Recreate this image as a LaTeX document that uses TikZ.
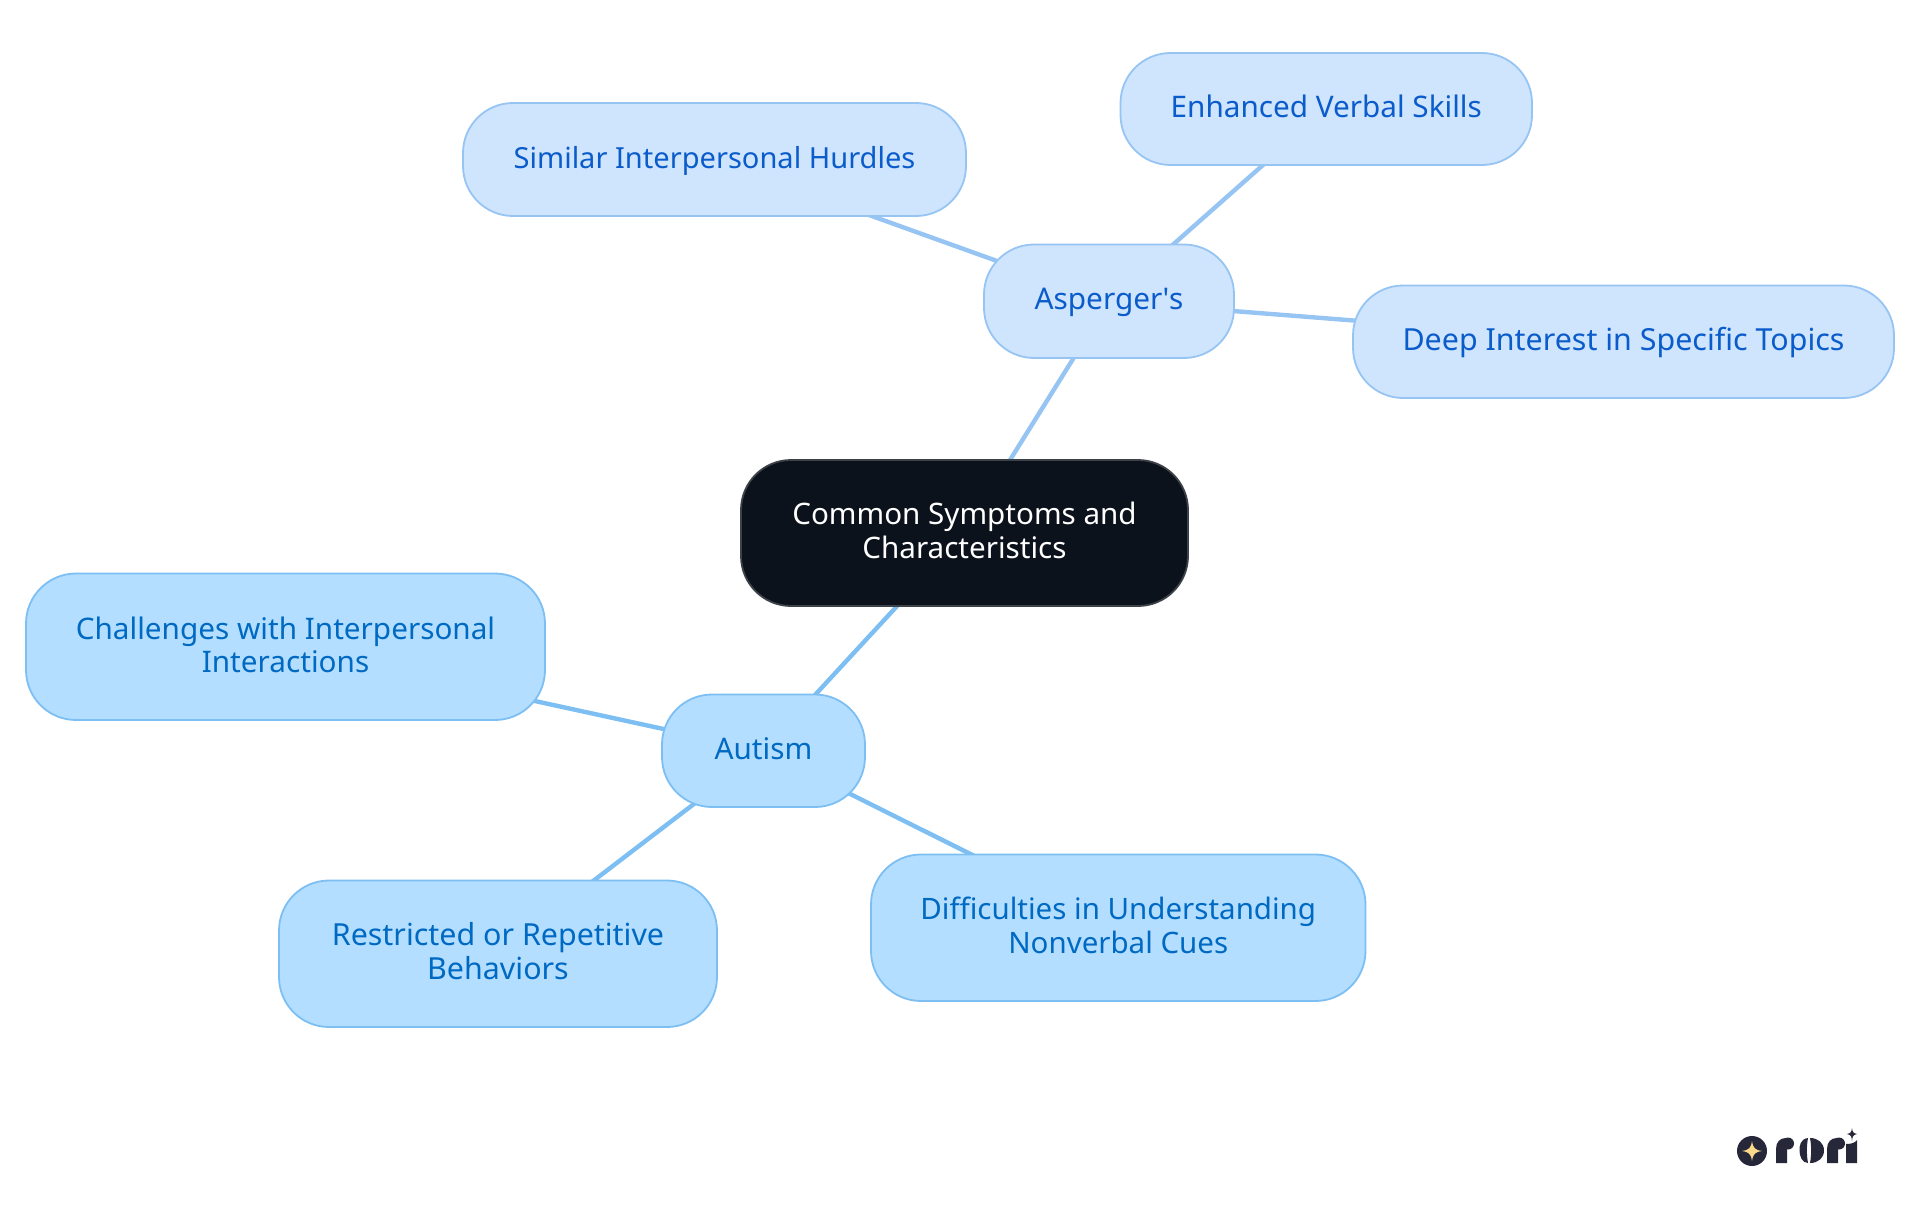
\documentclass[tikz,border=0pt]{standalone}
\usepackage{fontspec}
\setmainfont{Noto Sans}
\usetikzlibrary{backgrounds}
\definecolor{rootfill}{HTML}{0C121B}
\definecolor{rootline}{HTML}{3D4148}
\definecolor{aspfill}{HTML}{CFE4FD}
\definecolor{aspline}{HTML}{96C4F3}
\definecolor{asptext}{HTML}{0B5CCB}
\definecolor{autfill}{HTML}{B3DEFF}
\definecolor{autline}{HTML}{7DBFF3}
\definecolor{auttext}{HTML}{0069C2}
\definecolor{logodark}{HTML}{27273A}
\definecolor{logostar}{HTML}{FBD98A}
\tikzset{
  x=1pt,y=-1pt,
  boxbase/.style={draw,line width=1.8pt,inner sep=0pt,rounded corners=50pt},
  rootbox/.style={boxbase,fill=rootfill,draw=rootline,text=white},
  aspbox/.style={boxbase,fill=aspfill,draw=aspline,text=asptext},
  autbox/.style={boxbase,fill=autfill,draw=autline,text=auttext},
  asplink/.style={draw=aspline,line width=4.4pt},
  autlink/.style={draw=autline,line width=4.4pt},
}
% style, name, text, x0, x1, y0, y1, font size, raise of first baseline above centre
\newcommand{\bx}[9]{\def\tmpstyle{#1}\def\tmpname{#2}\def\tmptext{#3}\bxb{#4}{#5}{#6}{#7}{#8}{#9}}
\newcommand{\bxb}[6]{\node[\tmpstyle,minimum width=#2pt-#1pt,minimum height=#4pt-#3pt,
  font=\fontsize{#5}{33.7}\selectfont] (\tmpname) at ({(#1+#2)/2},{(#3+#4)/2})
  {\raisebox{#6pt}[0pt][0pt]{\begin{tabular}[t]{@{}c@{}}\tmptext\end{tabular}}};}
\begin{document}
\begin{tikzpicture}
\useasboundingbox (0,0) rectangle (1920,1215);
\bx{rootbox}{root}{Common Symptoms and\\Characteristics}{741}{1188}{460}{606}{29.6}{8.5}
\bx{aspbox}{asp}{Asperger\textquotesingle s}{984}{1234}{244.5}{358}{29.8}{-8.5}
\bx{aspbox}{similar}{Similar Interpersonal Hurdles}{463}{966}{103}{216}{29.05}{-9}
\bx{aspbox}{verbal}{Enhanced Verbal Skills}{1120.5}{1532}{53}{165}{29.7}{-9}
\bx{aspbox}{deep}{Deep Interest in Specific Topics}{1353}{1894}{285.5}{398}{30.4}{-9}
\bx{autbox}{autism}{Autism}{662}{865}{694.5}{807}{29.7}{-9}
\bx{autbox}{chall}{Challenges with Interpersonal\\Interactions}{26}{545}{573.5}{720}{29.7}{7.5}
\bx{autbox}{restr}{Restricted or Repetitive\\Behaviors}{279}{717}{880.5}{1027}{30.4}{8}
\bx{autbox}{diff}{Difficulties in Understanding\\Nonverbal Cues}{871}{1365.5}{854.5}{1001}{29.5}{8}
\begin{scope}[on background layer]
\draw[asplink] (root.center) -- (asp.center);
\draw[asplink] (asp.center) -- (similar.center);
\draw[asplink] (asp.center) -- (verbal.center);
\draw[asplink] (asp.center) -- (deep.center);
\draw[autlink] (root.center) -- (autism.center);
\draw[autlink] (autism.center) -- (chall.center);
\draw[autlink] (autism.center) -- (restr.center);
\draw[autlink] (autism.center) -- (diff.center);
\end{scope}
% logo
\fill[logodark] (1752,1151) circle[radius=15];
\fill[logostar] (1752,1141) .. controls (1753,1148) and (1755,1150) .. (1762,1151) .. controls (1755,1152) and (1753,1154) .. (1752,1161) .. controls (1751,1154) and (1749,1152) .. (1742,1151) .. controls (1749,1150) and (1751,1148) .. (1752,1141) -- cycle;
\begin{scope}[logodark]
\fill (1776,1163) -- (1776,1149) .. controls (1776,1142) and (1780,1138) .. (1786,1138) .. controls (1782,1141) and (1782,1146) .. (1787,1148) -- (1787,1163) -- cycle;
\fill (1788,1143.5) circle[radius=6];
\fill (1808,1138) .. controls (1800,1139) and (1799.5,1146) .. (1799.5,1150.5) .. controls (1799.5,1156) and (1802,1163) .. (1808,1163) .. controls (1806.5,1155) and (1806.5,1146) .. (1808,1138) -- cycle;
\fill (1810,1138) .. controls (1818,1138) and (1824,1143) .. (1824,1150.5) .. controls (1824,1158) and (1818,1163) .. (1810,1163) .. controls (1811.5,1155) and (1811.5,1146) .. (1810,1138) -- cycle;
\fill (1827,1163) -- (1827,1149) .. controls (1827,1142) and (1831,1138) .. (1837,1138) .. controls (1833,1141) and (1833,1146) .. (1838,1148) -- (1838,1163) -- cycle;
\fill (1839,1143.5) circle[radius=6];
\fill (1846,1163) -- (1846,1144) .. controls (1851,1144) and (1855,1143) .. (1857,1140) -- (1857,1163) -- cycle;
\fill (1852,1128) .. controls (1852.5,1132) and (1853,1133) .. (1857,1134) .. controls (1853,1135) and (1852.5,1136) .. (1852,1141) .. controls (1851.5,1136) and (1851,1135) .. (1847,1134) .. controls (1851,1133) and (1851.5,1132) .. (1852,1128) -- cycle;
\end{scope}
\end{tikzpicture}
\end{document}
